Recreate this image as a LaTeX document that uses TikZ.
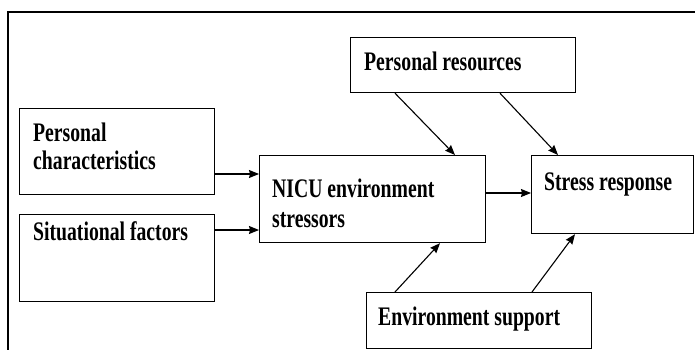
\documentclass[tikz,border=0pt]{standalone}
\usepackage{fontspec}
\usepackage{graphicx}
\setmainfont{Liberation Serif}
\usetikzlibrary{arrows.meta}
% tall, narrow bold lettering
\newcommand{\tallbf}[1]{\scalebox{1}[1.36]{#1}}
\begin{document}
\begin{tikzpicture}[x=1pt,y=-1pt,
  box/.style={draw, line width=1.2pt, rectangle, inner sep=0pt, anchor=north west},
  lbl/.style={inner sep=0pt, anchor=base west, font=\fontsize{19.7}{30}\selectfont\bfseries},
  arr/.style={line width=1.1pt, -{Stealth[length=10pt,width=8pt,inset=1pt]}},
  frame/.style={line width=1.5pt}]
\useasboundingbox (0,0) rectangle (695,350);
% outer frame (open at right and bottom)
\draw[frame] (8,352) -- (8,12) -- (697,12);
% boxes
\node[box, minimum width=195, minimum height=86] (pc) at (19,108) {};
\node[box, minimum width=195, minimum height=87] (sf) at (19,214) {};
\node[box, minimum width=226, minimum height=87] (nicu) at (259,155) {};
\node[box, minimum width=225, minimum height=55] (pr) at (350,37) {};
\node[box, minimum width=162, minimum height=78] (sr) at (531,155) {};
\node[box, minimum width=225, minimum height=56] (es) at (366,292) {};
% labels
\node[lbl] (pcA) at (33,141) {\tallbf{Personal}};
\node[lbl] (pcB) at (33,169.5) {\tallbf{characteristics}};
\node[lbl] (sfA) at (33,240) {\tallbf{Situational factors}};
\node[lbl] (nicuA) at (272,197) {\tallbf{NICU environment}};
\node[lbl] (nicuB) at (272,227) {\tallbf{stressors}};
\node[lbl] (prA) at (364,71) {\tallbf{Personal resources}};
\node[lbl] (srA) at (544,190) {\tallbf{Stress response}};
\node[lbl] (esA) at (378,325) {\tallbf{Environment support}};
% connectors
\draw[arr] (pc.east |- 0,174) -- (nicu.west |- 0,174);
\draw[arr] (sf.east |- 0,230) -- (nicu.west |- 0,230);
\draw[arr] (nicu.east |- 0,193) -- (sr.west |- 0,193);
\draw[arr] (pr.south -| 395,0) -- (nicu.north -| 455,0);
\draw[arr] (pr.south -| 500,0) -- (sr.north -| 558,0);
\draw[arr] (es.north -| 395,0) -- (nicu.south -| 440,0);
\draw[arr] (es.north -| 532,0) -- (sr.south -| 575,0);
\end{tikzpicture}
\end{document}
